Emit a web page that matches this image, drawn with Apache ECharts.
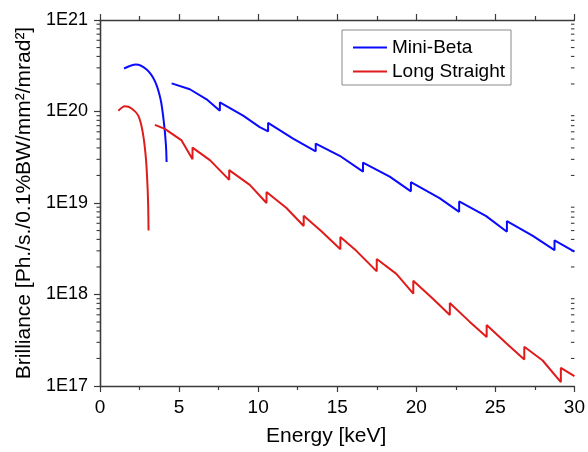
<!DOCTYPE html>
<html lang="en">
<head>
    <meta charset="UTF-8">
    <title>Brilliance</title>
    <script src="https://cdn.jsdelivr.net/npm/echarts@6/dist/echarts.min.js"></script>
    <style>
        html, body { margin:0; padding:0; background:#fff; }
        #chart { width:588px; height:452px; }
    </style>
</head>
<body>
<div id="chart"></div>
<script>
    // energy [keV] and brilliance values
    var miniBetaLowE = [1.52, 2.27, 2.95, 3.47, 3.83, 4.04, 4.17, 4.21];
    var miniBetaLowB = [2.95e20, 3.27e20, 2.88e20, 2.15e20, 1.36e20, 7.6e19, 4.3e19, 2.8e19];

    var miniBetaE = [4.53, 5.68, 6.74, 7.58, 7.58, 9.05, 10.1, 10.63, 10.63, 12.21, 13.64, 13.64, 15.16, 16.63, 16.63,
        18.32, 19.66, 19.66, 21.47, 22.71, 22.71, 24.42, 25.73, 25.73, 27.37, 28.74, 28.74, 30.0];
    var miniBetaB = [2.03e20, 1.75e20, 1.36e20, 1.02e20, 1.26e20, 9.02e19, 6.75e19, 6.05e19, 7.52e19, 5.05e19, 3.67e19, 4.46e19, 3.28e19, 2.2e19, 2.77e19,
        1.94e19, 1.34e19, 1.69e19, 1.13e19, 8.0e18, 1.04e19, 7.18e18, 4.85e18, 6.34e18, 4.37e18, 3.05e18, 3.91e18, 2.95e18];

    var longStraightLowE = [1.16, 1.58, 2.0, 2.42, 2.70, 2.905, 3.01, 3.05, 3.07];
    var longStraightLowB = [1.02e20, 1.14e20, 1.08e20, 9.0e19, 5.96e19, 3.06e19, 1.45e19, 8.8e18, 5.0e18];

    var longStraightE = [3.47, 4.1, 5.16, 5.85, 5.85, 6.95, 8.17, 8.17, 9.47, 10.53, 10.53, 11.79, 12.88, 12.88,
        14.0, 15.2, 15.2, 16.21, 17.5, 17.5, 18.74, 19.81, 19.81, 21.05, 22.12, 22.12, 23.37, 24.45, 24.45,
        25.69, 26.83, 26.83, 27.99, 29.14, 29.14, 30.0];
    var longStraightB = [7.15e19, 6.46e19, 4.83e19, 3.01e19, 4.03e19, 2.94e19, 1.79e19, 2.29e19, 1.58e19, 1.0e19, 1.32e19, 8.83e18, 5.6e18, 7.24e18,
        4.9e18, 3.13e18, 4.24e18, 3.0e18, 1.79e18, 2.44e18, 1.68e18, 1.02e18, 1.41e18, 9.0e17, 5.96e17, 8.09e17, 5.05e17, 3.43e17, 4.65e17,
        2.94e17, 1.95e17, 2.69e17, 1.9e17, 1.1e17, 1.58e17, 1.28e17];

    var yMinExp = 17, yMaxExp = 21;
    var xMin = 0, xMax = 30;

    function pairs(xs, ys){
        var out = [];
        for(var i=0;i<xs.length;i++){
            out.push([xs[i], ys[i]]);
        }
        return out;
    }

    // minor ticks of the log axis: 2..9 in each decade
    var yMinorVals = [];
    for(var d=yMinExp; d<yMaxExp; d++){
        for(var k=2;k<=9;k++){
            yMinorVals.push([xMin, k*Math.pow(10, d)]);
        }
    }

    var font = 'Liberation Sans, Arial, sans-serif';
    var axisColor = '#3a3a3a';
    var blue = '#0a0aff';
    var red = '#e01b1b';

    function xAx(pos, showLabel){
        return {
            type:'value', min:xMin, max:xMax, interval:5, position:pos,
            axisLine:{show:true, lineStyle:{color:axisColor, width:1.3}},
            axisTick:{show:true, length:6, lineStyle:{color:axisColor, width:1.2}},
            minorTick:{show:true, splitNumber:2, length:4, lineStyle:{color:axisColor, width:1.2}},
            axisLabel:{show:showLabel, fontSize:19, margin:12, color:'#000', fontFamily:font},
            splitLine:{show:false},
            minorSplitLine:{show:false}
        };
    }

    function yAx(pos, inside, showLabel){
        return {
            type:'log', logBase:10, min:Math.pow(10, yMinExp), max:Math.pow(10, yMaxExp), position:pos,
            axisLine:{show:true, lineStyle:{color:axisColor, width:1.3}},
            axisTick:{show:true, inside:inside, length:6, lineStyle:{color:axisColor, width:1.1}},
            axisLabel:{show:showLabel, fontSize:18, margin:12, color:'#000', fontFamily:font,
                formatter:function(v){ return '1E' + Math.round(Math.log10(v)); }},
            splitLine:{show:false}
        };
    }

    // small ticks on left (outward) and right (inward) edges
    function renderMinorTick(params, api){
        var left = api.coord([xMin, api.value(1)]);
        var right = api.coord([xMax, api.value(1)]);
        var st = {stroke:axisColor, lineWidth:1.1};
        return {
            type:'group',
            children:[
                {type:'line', shape:{x1:left[0]-3.5, y1:left[1], x2:left[0], y2:left[1]}, style:st},
                {type:'line', shape:{x1:right[0]-3.5, y1:right[1], x2:right[0], y2:right[1]}, style:st}
            ]
        };
    }

    var x0 = xAx('bottom', true);
    x0.name = 'Energy [keV]';
    x0.nameLocation = 'middle';
    x0.nameGap = 40;
    x0.nameTextStyle = {fontSize:21, color:'#000', fontFamily:font, padding:[0,22,0,0]};

    var y0 = yAx('left', false, true);
    y0.name = 'Brilliance [Ph./s./0.1%BW/mm\u00b2/mrad\u00b2]';
    y0.nameLocation = 'middle';
    y0.nameGap = 64;
    y0.nameTextStyle = {fontSize:21, color:'#000', fontFamily:font};

    var myChart = echarts.init(document.getElementById('chart'));
    var option = {
        animation:false,
        backgroundColor:'#fff',
        grid:{left:100, right:13, top:20, bottom:62},
        legend:{
            orient:'vertical', left:342, top:30,
            icon:'rect', itemWidth:34, itemHeight:2, itemGap:5,
            padding:[8,6,4,11],
            borderColor:'#8a8a8a', borderWidth:1,
            textStyle:{fontSize:19, color:'#000', fontFamily:font},
            data:['Mini-Beta','Long Straight']
        },
        xAxis:[x0, xAx('top', false)],
        yAxis:[
            y0,
            yAx('right', true, false)
        ],
        series:[
            {name:'Mini-Beta', type:'line', data:pairs(miniBetaLowE, miniBetaLowB), symbol:'none', smooth:0.3,
                lineStyle:{color:blue, width:2}, itemStyle:{color:blue}},
            {name:'Mini-Beta', type:'line', data:pairs(miniBetaE, miniBetaB), symbol:'none',
                lineStyle:{color:blue, width:2}, itemStyle:{color:blue}},
            {name:'Long Straight', type:'line', data:pairs(longStraightLowE, longStraightLowB), symbol:'none', smooth:0.3,
                lineStyle:{color:red, width:2}, itemStyle:{color:red}},
            {name:'Long Straight', type:'line', data:pairs(longStraightE, longStraightB), symbol:'none',
                lineStyle:{color:red, width:2}, itemStyle:{color:red}},
            {type:'custom', data:yMinorVals, renderItem:renderMinorTick, clip:false, silent:true,
                encode:{x:0, y:1}, z:1}
        ]
    };
    myChart.setOption(option);
</script>
</body>
</html>
